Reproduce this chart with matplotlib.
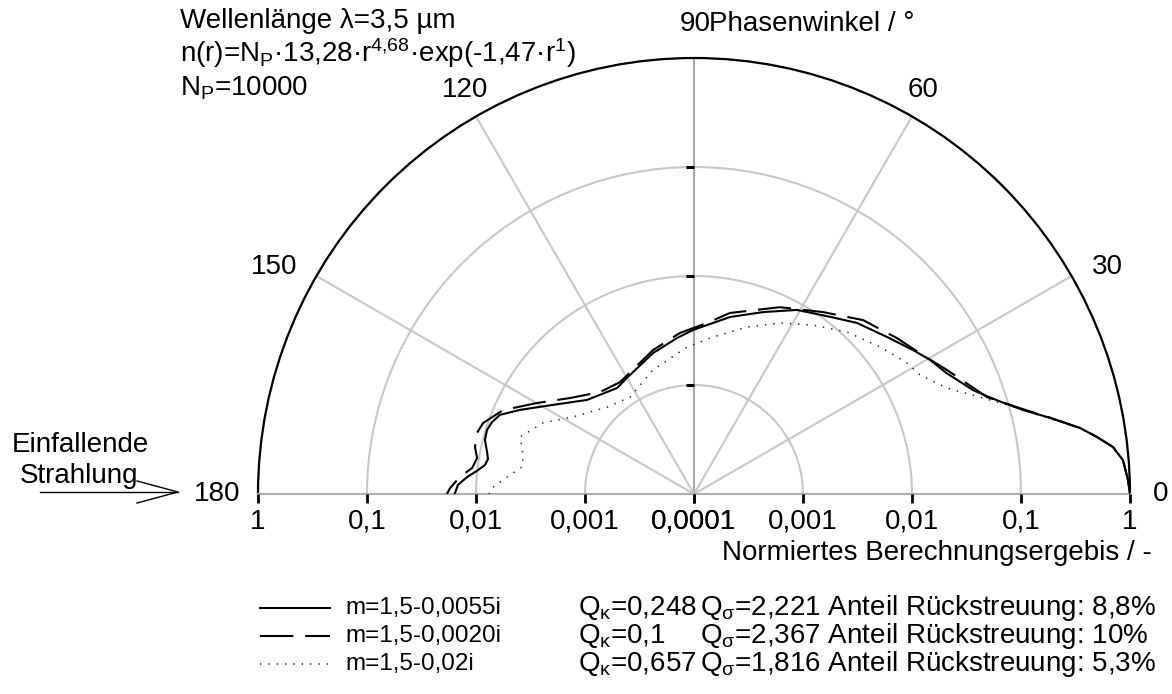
import numpy as np
import matplotlib
matplotlib.use("Agg")
import matplotlib.pyplot as plt
from matplotlib.lines import Line2D
from matplotlib.path import Path
from matplotlib.ticker import FixedLocator, NullLocator

plt.rcParams['font.family'] = ['Liberation Sans', 'DejaVu Sans']
plt.rcParams['mathtext.fontset'] = 'custom'
plt.rcParams['mathtext.rm'] = 'Liberation Sans'
plt.rcParams['mathtext.it'] = 'Liberation Sans:italic'
plt.rcParams['mathtext.bf'] = 'Liberation Sans:bold'
plt.rcParams['lines.scale_dashes'] = False

# Scattering phase function, normalised, per refractive index
angle_a = [0, 1.85, 4.5, 6.4, 8.05, 9.7, 12.3, 14.3, 17.2, 20.4, 25.6, 29.6, 33.3,
           39.1, 46.4, 52.5, 60.8, 69.2, 78.5, 90.3, 96.2, 106.2, 120, 126, 138.7,
           147.7, 154.2, 157.8, 160.4, 162.8, 165.5, 168.5, 170.4, 172.1, 173.9,
           175.7, 177.8, 180]
value_a = [1.0, 0.963, 0.887, 0.738, 0.542, 0.392, 0.207, 0.131, 0.081, 0.054, 0.037,
           0.031, 0.0254, 0.0192, 0.0147, 0.0112, 0.0086, 0.0061, 0.00454, 0.0032,
           0.00275, 0.00222, 0.0017, 0.00159, 0.00203, 0.00339, 0.00593, 0.00836,
           0.00927, 0.00973, 0.00957, 0.00866, 0.00826, 0.00863, 0.01005, 0.0122,
           0.0147, 0.0157]

angle_b = [0, 1.85, 4.5, 6.4, 8.05, 9.7, 12.3, 14.3, 18.3, 26.1, 30.3, 37.5, 45.8,
           54.7, 65.3, 78.8, 85.7, 95, 105.9, 123.5, 132.7, 142.3, 149.9, 156.3,
           161.4, 164.3, 167.9, 170.6, 173.3, 175.8, 178.6, 180]
value_b = [1.0, 0.963, 0.887, 0.738, 0.542, 0.392, 0.21, 0.135, 0.0678, 0.0385,
           0.0299, 0.0223, 0.0168, 0.0111, 0.0077, 0.00493, 0.00374, 0.00304,
           0.00236, 0.0017, 0.00187, 0.00275, 0.00462, 0.0082, 0.0110, 0.0117,
           0.01135, 0.0104, 0.0112, 0.0142, 0.0173, 0.0185]

angle_c = [0, 1.85, 4.5, 6.4, 8.05, 9.7, 12.3, 15.3, 18.7, 22.7, 27.8, 31.6, 38.3,
           46.6, 54.8, 63.3, 72.4, 83.1, 92.7, 108.3, 123.4, 135, 147.5, 154.8,
           161.9, 164.7, 167.8, 171.1, 173.4, 175.8, 178.3, 180]
value_c = [1.0, 0.963, 0.887, 0.738, 0.542, 0.392, 0.2, 0.108, 0.059, 0.0329, 0.022,
           0.0197, 0.015, 0.0111, 0.00787, 0.0057, 0.00405, 0.00282, 0.00224,
           0.00158, 0.00116, 0.00134, 0.00207, 0.0034, 0.00479, 0.00432, 0.00403,
           0.00396, 0.0047, 0.00571, 0.00715, 0.0076]

series_labels = ['m=1,5-0,0055i', 'm=1,5-0,0020i', 'm=1,5-0,02i']
q_kappa = ['0,248', '0,1', '0,657']
q_sigma = ['2,221', '2,367', '1,816']
backscatter = ['8,8%', '10%', '5,3%']

r_ticks = [1e-4, 1e-3, 1e-2, 1e-1, 1]
r_tick_labels = ['0,0001', '0,001', '0,01', '0,1', '1']
theta_ticks = [0, 30, 60, 90, 120, 150, 180]

FS = 20
W, H = 1172, 694
fig = plt.figure(figsize=(W / 100, H / 100), dpi=100)

# half-disc centre and radius in pixels; the wedge sits in the lower half
# of a square box whose side is the diameter
cx, cy, R = 694, 494, 436
side = 2 * R
box_bottom = cy + R / 2
ax = fig.add_axes([(cx - R) / W, (H - box_bottom) / H, side / W, side / H],
                  projection='polar')
ax.set_thetamin(0)
ax.set_thetamax(180)
ax.set_rscale('log')
ax.set_rlim(1e-4, 1)

ax.set_thetagrids(theta_ticks, labels=[''] * len(theta_ticks))
ax.yaxis.set_major_locator(FixedLocator(r_ticks))
ax.yaxis.set_minor_locator(NullLocator())
ax.set_yticklabels([''] * len(r_ticks))
ax.grid(True, color='#c8c8c8', lw=1.5)
ax.xaxis.get_gridlines()[3].set_color('#a8a8a8')
ax.set_axisbelow(True)

ax.tick_params(axis='x', direction='out', length=9, width=1.5, colors='black', pad=0)
ax.tick_params(axis='y', which='major', length=0, labelleft=False, labelright=False)

ax.spines['polar'].set_color('black')
ax.spines['polar'].set_linewidth(1.6)
for side_name in ('start', 'end'):
    ax.spines[side_name].set_color('#b0b0b0')
    ax.spines[side_name].set_linewidth(1.5)

# short ticks on the 90 degree ray and below the diameter
left_tick = Path([(-1, 0), (0, 0)])
down_tick = Path([(0, 0), (0, -1)])
ax.plot(np.deg2rad([90, 90, 90]), r_ticks[1:4], ls='none', marker=left_tick,
        ms=11, mew=2.2, mec='black', clip_on=False, zorder=3)
for th in (0.0, np.pi):
    ax.plot([th] * len(r_ticks), r_ticks, ls='none', marker=down_tick,
            ms=13, mew=2.0, mec='black', clip_on=False, zorder=3)

# curves
dash_style = (0, (24, 8.5))
dot_style = (0, (1, 5))
ax.plot(np.deg2rad(angle_c), value_c, color='#222222', lw=1.1, ls=dot_style, zorder=4)
ax.plot(np.deg2rad(angle_b), value_b, color='black', lw=1.5, ls=dash_style, zorder=4)
ax.plot(np.deg2rad(angle_a), value_a, color='black', lw=1.5, zorder=5)

# angle labels
px = 0.72  # points per pixel
angle_label_pos = {
    0: ((31, 0), 'center'),
    30: ((20, 9), 'left'),
    60: ((11, 26), 'center'),
    90: ((-14, 34), 'left'),
    120: ((-11, 26), 'center'),
    150: ((-19, 9), 'right'),
    180: ((-18, 0), 'right'),
}
for a in theta_ticks:
    (dx, dy), ha = angle_label_pos[a]
    ax.annotate(str(a), xy=(np.deg2rad(a), 1), xycoords='data',
                xytext=(dx * px, dy * px), textcoords='offset points',
                ha=ha, va='center', fontsize=FS, annotation_clip=False)

# radial scale labels on both halves of the diameter
for r, lab in zip(r_ticks, r_tick_labels):
    for th in (0, np.pi):
        ax.annotate(lab, xy=(th, r), xycoords='data', xytext=(0, -28 * px),
                    textcoords='offset points', ha='center', va='center',
                    fontsize=FS, annotation_clip=False)

def fx(x):
    return x / W

def fy(y):
    return 1 - y / H

fig.text(fx(709), fy(24), 'Phasenwinkel / °', ha='left', va='center', fontsize=FS)
fig.text(fx(1152), fy(553), 'Normiertes Berechnungsergebis / -', ha='right',
         va='center', fontsize=FS)

# parameters of the size distribution
fig.text(fx(180), fy(28), 'Wellenlänge λ=3,5 µm', ha='left', va='baseline', fontsize=FS)
fig.text(fx(180), fy(62),
         r'n(r)=N$_\mathrm{P}$·13,28·r$^\mathrm{4{,}68}$·exp(-1,47·r$^\mathrm{1}$)',
         ha='left', va='baseline', fontsize=FS)
fig.text(fx(180), fy(96), r'N$_\mathrm{P}$=10000', ha='left', va='baseline', fontsize=FS)

# incident radiation arrow
fig.text(fx(12), fy(452), 'Einfallende', ha='left', va='baseline', fontsize=FS)
fig.text(fx(20), fy(483), 'Strahlung', ha='left', va='baseline', fontsize=FS)
fig.add_artist(Line2D([fx(40), fx(178)], [fy(492), fy(492)], color='black', lw=1.0))
fig.add_artist(Line2D([fx(137), fx(178), fx(137)], [fy(481), fy(492), fy(503)],
                      color='black', lw=1.0))

# legend
styles = [dict(color='black', lw=1.5),
          dict(color='black', lw=1.5, ls=dash_style),
          dict(color='#222222', lw=1.1, ls=dot_style)]
rows_y = [608, 636, 664]
for y, st, lab, qk, qs, bs in zip(rows_y, styles, series_labels, q_kappa, q_sigma,
                                  backscatter):
    fig.add_artist(Line2D([fx(260), fx(330)], [fy(y), fy(y)], **st))
    fig.text(fx(345), fy(y), lab, ha='left', va='center', fontsize=17.5)
    fig.text(fx(578), fy(y), r'Q$_\mathrm{κ}$=' + qk, ha='left', va='center',
             fontsize=FS)
    fig.text(fx(700), fy(y), r'Q$_\mathrm{σ}$=' + qs + ' Anteil Rückstreuung: ' + bs,
             ha='left', va='center', fontsize=FS)

fig.savefig('out.png', dpi=100)
